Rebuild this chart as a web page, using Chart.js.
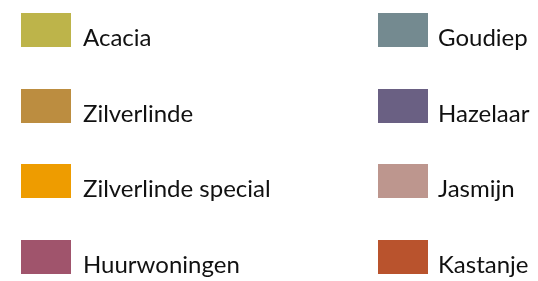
<!DOCTYPE html>
<html>
<head>
<meta charset="utf-8">
<script src="https://cdn.jsdelivr.net/npm/chart.js@4"></script>
<style>
  html, body { margin: 0; padding: 0; background: #ffffff; }
  #wrap { width: 538px; height: 281px; position: relative; }
</style>
</head>
<body>
<div id="wrap"><canvas id="c" width="538" height="281"></canvas></div>
<script>
// Legend categories and colours
const categories = ["Acacia", "Zilverlinde", "Zilverlinde special", "Huurwoningen",
                    "Goudiep", "Hazelaar", "Jasmijn", "Kastanje"];
const colors = ["#BDB44A", "#BC8D40", "#EE9C00", "#A0546C",
                "#748A90", "#6A6083", "#BD968E", "#B9532D"];

const legendLayout = {
  id: 'gridLegend',
  afterDraw(chart) {
    const ctx = chart.ctx;
    const ds = chart.data.datasets;
    const rows = 4;
    const colX = [21, 378];
    const rowTop0 = 13, rowStep = 75.7;
    const boxW = 50, boxH = 34;
    ctx.save();
    ctx.font = '24px Lato, "Noto Sans", sans-serif';
    ctx.textBaseline = 'alphabetic';
    ctx.textAlign = 'left';
    ds.forEach((d, i) => {
      const col = Math.floor(i / rows);
      const row = i % rows;
      const x = colX[col];
      const y = Math.round(rowTop0 + row * rowStep);
      ctx.fillStyle = d.backgroundColor;
      ctx.fillRect(x, y, boxW, boxH);
      ctx.fillStyle = '#111111';
      ctx.fillText(d.label, x + (col === 0 ? 62 : 60), y + 33);
    });
    ctx.restore();
  }
};

new Chart(document.getElementById('c'), {
  type: 'bar',
  data: {
    labels: [''],
    datasets: categories.map((c, i) => ({ label: c, data: [], backgroundColor: colors[i] }))
  },
  options: {
    responsive: false,
    animation: false,
    plugins: { legend: { display: false }, tooltip: { enabled: false } },
    scales: { x: { display: false }, y: { display: false } }
  },
  plugins: [legendLayout]
});
</script>
</body>
</html>
